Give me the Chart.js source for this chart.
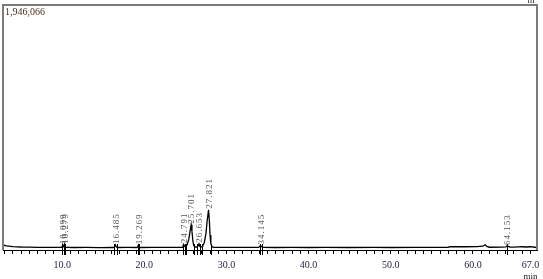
<!DOCTYPE html>
<html>
<head>
<meta charset="utf-8">
<script src="https://cdn.jsdelivr.net/npm/chart.js@4"></script>
<style>
  html, body { margin: 0; padding: 0; background: #fff; }
  #wrap { width: 543px; height: 279px; }
</style>
</head>
<body>
<div id="wrap"><canvas id="chrom" width="543" height="279"></canvas></div>
<script>
const yMax = 1946066;
const xMin = 2.8;
const xMax = 67.8;

// chromatogram trace (min, signal)
const traceTimes = [
  2.8, 3.2, 4, 5, 6, 7, 8, 9, 9.9, 10.0, 10.1, 10.18, 10.25, 10.3, 10.4, 10.5,
  11.5, 13, 14.5, 16.2, 16.35, 16.485, 16.6, 16.75, 18, 19.1, 19.2, 19.269, 19.35, 19.5,
  21, 22.5, 24, 24.6, 24.7, 24.791, 24.9, 25.0, 25.2, 25.4, 25.55, 25.701, 25.8, 25.9,
  26.0, 26.1, 26.3, 26.5, 26.653, 26.75, 26.9, 27.1, 27.3, 27.5, 27.65, 27.821, 27.92,
  28.0, 28.1, 28.25, 28.5, 30, 32, 33.9, 34.0, 34.145, 34.3, 34.5, 36, 38, 40, 42, 45,
  48, 50, 53, 56, 57, 57.2, 59, 60.5, 61.2, 61.5, 61.7, 62, 63.5, 64, 64.153, 64.3,
  64.5, 65, 65.5, 66, 66.5, 67, 67.5, 67.8
];
const traceValues = [
  40000, 32000, 27000, 24000, 22500, 21500, 21000, 20500, 20500, 28000, 38000, 27000, 36000, 42000, 25000, 20500,
  20000, 20500, 19500, 20000, 24000, 40000, 24000, 20000, 20500, 20000, 25000, 38000, 25000, 20000,
  21000, 20500, 20500, 21000, 28000, 45000, 30000, 24000, 40000, 80000, 140000, 200000, 150000, 80000,
  40000, 26000, 22000, 28000, 50000, 30000, 24000, 30000, 60000, 130000, 230000, 320000, 230000,
  120000, 50000, 25000, 21000, 20500, 21000, 20500, 26000, 36000, 25000, 21000, 20000, 20500, 20000, 20500, 20000,
  20500, 20000, 20500, 21000, 22000, 26000, 26000, 26500, 30000, 42000, 28000, 22000, 22500, 24000, 32000, 28000,
  24000, 23000, 25000, 26000, 24000, 26000, 22000, 20000
];

// labelled peaks
const peakLabels = ["10.099", "10.279", "16.485", "19.269", "24.791", "25.701", "26.653", "27.821", "34.145", "64.153"];
const peakTimes = [10.1, 10.3, 16.485, 19.269, 24.791, 25.701, 26.653, 27.821, 34.145, 64.153];
const peakHeights = [38000, 42000, 40000, 38000, 45000, 200000, 50000, 320000, 36000, 32000];

// integration markers (min)
const markerTimes = [10.0, 10.2, 10.4, 16.35, 16.62, 19.2, 19.36, 24.68, 24.95, 25.05, 26.05, 26.45, 26.8, 27.0, 28.15, 34.05, 34.3, 64.1];

// axis ticks
const minorTicks = [];
for (let t = 3; t <= 67; t++) minorTicks.push(t);
const tickLabels = { 10: "10.0", 20: "20.0", 30: "30.0", 40: "40.0", 50: "50.0", 60: "60.0", 67: "67.0" };

const decorations = {
  id: "decorations",
  afterDatasetsDraw(chart) {
    const { ctx, chartArea: a, scales: { x, y } } = chart;
    ctx.save();
    // frame
    ctx.strokeStyle = "#7b7b7b";
    ctx.lineWidth = 2;
    ctx.beginPath();
    ctx.moveTo(a.left, a.bottom);
    ctx.lineTo(a.left, a.top);
    ctx.lineTo(a.right, a.top);
    ctx.lineTo(a.right, a.bottom);
    ctx.stroke();

    // markers
    ctx.strokeStyle = "#000";
    ctx.lineWidth = 1;
    markerTimes.forEach((t) => {
      const px = Math.round(x.getPixelForValue(t)) + 0.5;
      ctx.beginPath();
      ctx.moveTo(px, a.bottom - 6);
      ctx.lineTo(px, a.bottom + 5);
      ctx.stroke();
    });

    // peak labels
    ctx.fillStyle = "#555";
    ctx.font = "9px 'Liberation Serif', serif";
    ctx.letterSpacing = "1px";
    ctx.textAlign = "left";
    ctx.textBaseline = "middle";
    peakLabels.forEach((lab, i) => {
      const px = x.getPixelForValue(peakTimes[i]) + 1;
      const py = y.getPixelForValue(peakHeights[i]) - 1;
      ctx.save();
      ctx.translate(px, py);
      ctx.rotate(-Math.PI / 2);
      ctx.fillText(lab, 0, 0);
      ctx.restore();
    });
    ctx.letterSpacing = "0px";

    // texts
    ctx.fillStyle = "#4a2e1c";
    ctx.font = "10px 'Liberation Serif', serif";
    ctx.textBaseline = "top";
    ctx.fillText("1,946,066", a.left + 2, a.top + 2);

    ctx.fillStyle = "#222";
    ctx.textAlign = "center";
    ctx.textBaseline = "alphabetic";
    ctx.font = "9px 'Liberation Serif', serif";
    ctx.fillText("min", x.getPixelForValue(67), 279);
    ctx.fillText("m", 531, 3);
    ctx.restore();
  }
};

window.onload = () => {
  const ctx = document.getElementById("chrom");
  new Chart(ctx, {
    type: "line",
    data: {
      datasets: [
        {
          data: traceTimes.map((t, i) => ({ x: t, y: traceValues[i] })),
          borderColor: "#000",
          borderWidth: 1.3,
          pointRadius: 0,
          tension: 0,
          fill: false,
        },
      ],
    },
    options: {
      responsive: false,
      animation: false,
      events: [],
      layout: { padding: { left: 3, right: 6, top: 5, bottom: 0 } },
      plugins: { legend: { display: false }, tooltip: { enabled: false } },
      scales: {
        x: {
          type: "linear",
          min: xMin,
          max: xMax,
          afterBuildTicks: (scale) => {
            scale.ticks = minorTicks.map((v) => ({ value: v }));
          },
          afterFit: (scale) => {
            scale.height = 29;
            scale.paddingLeft = 0;
            scale.paddingRight = 0;
          },
          ticks: {
            autoSkip: false,
            maxRotation: 0,
            padding: 5,
            color: "#1e1e38",
            font: { family: "'Liberation Serif', serif", size: 10 },
            callback: (v) => tickLabels[v] || "",
          },
          grid: {
            drawOnChartArea: false,
            drawTicks: true,
            tickLength: 4,
            color: "#000",
          },
          border: { display: true, color: "#000", width: 1 },
        },
        y: {
          display: false,
          min: 0,
          max: yMax,
        },
      },
    },
    plugins: [decorations],
  });
};
</script>
</body>
</html>
